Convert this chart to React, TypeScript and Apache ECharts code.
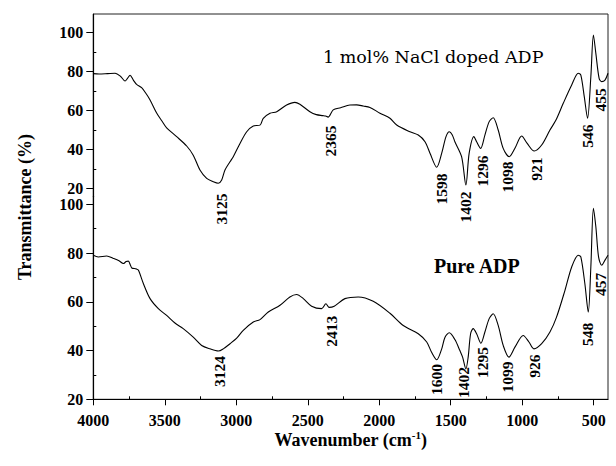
import React, { useEffect, useRef } from "react";
import * as echarts from "echarts";

// ---- Data ----
const xMajorTicks = [4000, 3500, 3000, 2500, 2000, 1500, 1000, 500];
const xMinorTicks = [3750, 3250, 2750, 2250, 1750, 1250, 750];
const yMajorTicks = [20, 40, 60, 80, 100];
const yMinorTicks = [30, 50, 70, 90];

// 1 mol% NaCl doped ADP spectrum [wavenumber, transmittance]
const dopedSpectrum: [number, number][] = [
  [4000, 78.8], [3960, 78.6], [3900, 78.8], [3848, 79], [3810, 77.5], [3778, 75],
  [3760, 76.5], [3743, 78], [3720, 75.5], [3697, 73.3], [3662, 71.6], [3630, 68.5],
  [3603, 65.3], [3557, 58.6], [3520, 54.5], [3487, 51], [3417, 46.5], [3347, 41.7],
  [3301, 37], [3254, 29.4], [3207, 25.1], [3161, 23.4], [3126, 22.6], [3102, 24.3],
  [3079, 29.4], [3044, 33.6], [3021, 36.2], [2974, 43], [2927, 49], [2881, 52],
  [2834, 52.4], [2811, 55.9], [2764, 58.5], [2717, 59.3], [2648, 62.7], [2590, 64.1],
  [2555, 63.1], [2485, 59.3], [2440, 57.8], [2395, 57.3], [2375, 57.1], [2358, 56.5],
  [2322, 60.2], [2270, 61.3], [2205, 62.7], [2158, 62.8], [2112, 62.2], [2065, 61.5],
  [1995, 58.5], [1925, 55.9], [1878, 52.5], [1785, 49], [1727, 47.3], [1680, 43.9],
  [1645, 38], [1598, 30.8], [1563, 38], [1533, 46.5], [1510, 49], [1490, 47.5],
  [1471, 43.9], [1424, 36.2], [1394, 21.7], [1371, 38], [1338, 46.5], [1319, 43.9],
  [1291, 40.5], [1261, 47.3], [1231, 54.2], [1203, 56.2], [1168, 49.9], [1133, 40.5],
  [1091, 36.2], [1051, 40.5], [1004, 46.8], [965, 43], [916, 39.1], [864, 42.2],
  [806, 49.9], [764, 55], [713, 63.6], [654, 73], [608, 79], [590, 78.1],
  [566, 67], [543, 55.9], [520, 77.2], [502, 98.6], [485, 89.2], [462, 76.4],
  [444, 74.7], [421, 75.5], [400, 79],
];

// Pure ADP spectrum [wavenumber, transmittance]
const pureSpectrum: [number, number][] = [
  [4000, 79.1], [3965, 78.4], [3906, 78.8], [3860, 77.8], [3820, 76.8], [3790, 75.7],
  [3770, 76.5], [3755, 76.7], [3740, 75], [3731, 73.9], [3700, 73.5], [3685, 73],
  [3650, 67.5], [3603, 61.3], [3545, 57.2], [3487, 54.4], [3429, 51.3], [3371, 49],
  [3301, 45.5], [3242, 42.1], [3184, 40.7], [3126, 39.8], [3091, 40.7], [3044, 42.8],
  [2997, 45.1], [2951, 48.3], [2881, 51.7], [2834, 52.7], [2776, 55.8], [2694, 58.6],
  [2625, 62], [2578, 63], [2531, 61.3], [2473, 58.2], [2403, 57.2], [2373, 59.2],
  [2350, 57.7], [2315, 58.2], [2240, 61.3], [2147, 62], [2042, 60.2], [1925, 55.3],
  [1832, 50.3], [1727, 46.9], [1668, 43.5], [1634, 39.3], [1598, 36.2], [1563, 40.7],
  [1540, 45.5], [1510, 47.3], [1471, 44.5], [1436, 40], [1417, 37.3], [1394, 32.5],
  [1378, 37.3], [1361, 46.9], [1343, 49], [1319, 46.9], [1289, 43], [1261, 47.6],
  [1231, 53.1], [1203, 55.1], [1168, 50.3], [1133, 42.1], [1093, 37.3], [1051, 41.4],
  [993, 46.2], [953, 43.5], [918, 40.7], [864, 42.8], [806, 47.6], [760, 53.7],
  [701, 64.7], [654, 74.3], [608, 79.1], [590, 78.4], [562, 67.5], [538, 55.8],
  [520, 74.3], [502, 98.4], [485, 90.8], [466, 78.4], [444, 75], [421, 77.1],
  [400, 79.1],
];

// Peak annotations: [label-anchor wavenumber, label-anchor transmittance, text]
const dopedPeaks: [number, number, string][] = [
  [3100, 9.4, "3125"], [2340, 44.3, "2365"], [1562, 19.6, "1598"], [1394, 10.4, "1402"],
  [1275, 28.9, "1296"], [1100, 25.8, "1098"], [897, 29.9, "921"], [542, 46.8, "546"],
  [452, 65.3, "455"],
];
const purePeaks: [number, number, string][] = [
  [3114, 31.4, "3124"], [2333, 47.9, "2413"], [1597, 28.1, "1600"], [1408, 26.9, "1402"],
  [1275, 35.1, "1295"], [1100, 29.1, "1099"], [911, 33.6, "926"], [542, 46.6, "548"],
  [455, 67.2, "457"],
];

const dopedTitle = "1 mol% NaCl doped ADP";
const pureTitle = "Pure ADP";
const yTitle = "Transmittance (%)";

const SERIF = "Liberation Serif";

export default function App() {
  const ref = useRef<HTMLDivElement>(null);

  useEffect(() => {
    if (!ref.current) return;
    const chart = echarts.init(ref.current, undefined, { renderer: "svg" });

    const X_MIN = 400;
    const X_MAX = 4000;
    const LEFT = 93.3;
    const RIGHT = 8;
    const TOP = 14;
    const SPLIT = 196.5;
    const BOTTOM_Y = 399.3;

    const labelFont = { fontFamily: SERIF, fontWeight: "bold" as const, fontSize: 16, color: "#000" };
    const plain = (v: number) => String(v);

    const hiddenX = (gridIndex: number) => ({
      type: "value" as const, gridIndex, min: X_MIN, max: X_MAX, inverse: true, show: false,
    });

    const peakSeries = (peaks: [number, number, string][], xi: number, yi: number) => ({
      type: "custom" as const,
      xAxisIndex: xi,
      yAxisIndex: yi,
      silent: true,
      clip: false,
      data: peaks.map((p) => [p[0], p[1]]),
      renderItem: (params: any, api: any) => {
        const pt = api.coord([api.value(0), api.value(1)]);
        return {
          type: "text",
          x: pt[0],
          y: pt[1],
          rotation: Math.PI / 2,
          style: {
            text: peaks[params.dataIndex][2],
            fontFamily: SERIF,
            fontWeight: "bold",
            fontSize: 15.5,
            fill: "#000",
            align: "center",
            verticalAlign: "middle",
          },
        };
      },
    });

    chart.setOption({
      animation: false,
      backgroundColor: "#fff",
      grid: [
        { left: LEFT, right: RIGHT, top: TOP, height: SPLIT - TOP },
        { left: LEFT, right: RIGHT, top: SPLIT, height: BOTTOM_Y - SPLIT },
        {
          left: LEFT, right: RIGHT, top: TOP, height: BOTTOM_Y - TOP,
          show: true, borderColor: "#222", borderWidth: 1, backgroundColor: "transparent",
        },
      ],
      xAxis: [
        hiddenX(0),
        {
          type: "value", gridIndex: 1, position: "bottom", min: X_MIN, max: X_MAX, inverse: true,
          axisLine: { show: true, lineStyle: { color: "#000", width: 1.2 } },
          axisTick: { show: true, customValues: xMajorTicks, length: 6, lineStyle: { color: "#000" } },
          axisLabel: { customValues: xMajorTicks, margin: 13, formatter: plain, ...labelFont },
          splitLine: { show: false },
          name: "{a|Wavenumber (cm}{b|-1}{a|)}",
          nameLocation: "middle",
          nameGap: 28,
          nameTextStyle: {
            rich: {
              a: { fontFamily: SERIF, fontWeight: "bold", fontSize: 18, color: "#000", lineHeight: 22 },
              b: { fontFamily: SERIF, fontWeight: "bold", fontSize: 11, color: "#000", verticalAlign: "top", lineHeight: 22 },
            },
          },
        },
        {
          type: "value", gridIndex: 1, position: "bottom", min: X_MIN, max: X_MAX, inverse: true,
          axisLine: { show: false },
          axisTick: { show: true, inside: true, customValues: xMinorTicks, length: 3, lineStyle: { color: "#000" } },
          axisLabel: { show: false },
          splitLine: { show: false },
        },
        hiddenX(2),
      ],
      yAxis: [
        {
          type: "value", gridIndex: 0, position: "left", min: 15.8, max: 109.4,
          axisLine: { show: true, lineStyle: { color: "#000", width: 1.2 } },
          axisTick: { show: true, customValues: yMajorTicks, length: 7, lineStyle: { color: "#000" } },
          axisLabel: { customValues: yMajorTicks, margin: 10, formatter: plain, ...labelFont },
          splitLine: { show: false },
        },
        {
          type: "value", gridIndex: 0, position: "left", min: 15.8, max: 109.4,
          axisLine: { show: false },
          axisTick: { show: true, inside: true, customValues: yMinorTicks, length: 3, lineStyle: { color: "#000" } },
          axisLabel: { show: false },
          splitLine: { show: false },
        },
        {
          type: "value", gridIndex: 1, position: "left", min: 20, max: 103.2,
          axisLine: { show: true, lineStyle: { color: "#000", width: 1.2 } },
          axisTick: { show: true, customValues: yMajorTicks, length: 7, lineStyle: { color: "#000" } },
          axisLabel: { customValues: yMajorTicks, margin: 10, formatter: plain, ...labelFont },
          splitLine: { show: false },
        },
        {
          type: "value", gridIndex: 1, position: "left", min: 20, max: 103.2,
          axisLine: { show: false },
          axisTick: { show: true, inside: true, customValues: yMinorTicks, length: 3, lineStyle: { color: "#000" } },
          axisLabel: { show: false },
          splitLine: { show: false },
        },
        { type: "value", gridIndex: 2, min: 0, max: 1, show: false },
      ],
      series: [
        {
          type: "line", name: dopedTitle, xAxisIndex: 0, yAxisIndex: 0,
          data: dopedSpectrum, showSymbol: false, smooth: 0.3,
          lineStyle: { color: "#000", width: 1.1 }, silent: true,
        },
        {
          type: "line", name: pureTitle, xAxisIndex: 1, yAxisIndex: 2,
          data: pureSpectrum, showSymbol: false, smooth: 0.3,
          lineStyle: { color: "#000", width: 1.1 }, silent: true,
        },
        peakSeries(dopedPeaks, 0, 0),
        peakSeries(purePeaks, 1, 2),
      ],
      graphic: [
        {
          type: "text", x: 25, y: 207, rotation: Math.PI / 2,
          style: {
            text: yTitle, fontFamily: SERIF, fontWeight: "bold", fontSize: 18, fill: "#000",
            textAlign: "center", textVerticalAlign: "middle",
          },
        },
        {
          type: "text", x: 323, y: 57,
          style: {
            text: dopedTitle, fontFamily: "DejaVu Serif", fontSize: 17.5, fill: "#000",
            textAlign: "left", textVerticalAlign: "middle",
          },
        },
        {
          type: "text", x: 434, y: 266,
          style: {
            text: pureTitle, fontFamily: SERIF, fontWeight: "bold", fontSize: 20, fill: "#000",
            textAlign: "left", textVerticalAlign: "middle",
          },
        },
      ],
    });

    return () => chart.dispose();
  }, []);

  return (
    <div
      ref={ref}
      style={{ position: "absolute", left: 0, top: 0, width: 616, height: 466 }}
    />
  );
}
